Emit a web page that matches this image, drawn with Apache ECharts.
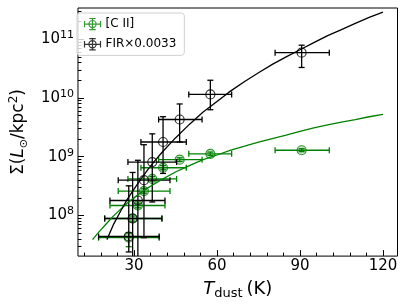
<!DOCTYPE html>
<html><head><meta charset="utf-8">
<script src="https://cdn.jsdelivr.net/npm/echarts@6/dist/echarts.min.js"></script>
<style>html,body{margin:0;padding:0;background:#fff}#c{width:407px;height:305px}</style>
</head><body><div id="c"></div>
<script>
// ---- data ----
const tDust  = [28.1, 29.5, 31.4, 33.6, 36.6, 40.5, 46.5, 57.6, 90.6];
const tLow   = [17.2, 19.4, 21.3, 24.3, 27.8, 32.5, 38.9, 49.8, 81.0];
const tHigh  = [39.1, 40.1, 41.2, 43.0, 45.4, 48.9, 54.6, 65.3, 100.6];
const ciiVal  = [4.2e7, 8.9e7, 1.48e8, 2.6e8, 4.2e8, 6.5e8, 8.9e8, 1.12e9, 1.29e9];
const ciiLow  = [2.95e7, 8.0e7, 1.35e8, 2.4e8, 3.85e8, 6.0e8, 8.3e8, 1.05e9, 1.22e9];
const ciiHigh = [5.1e7, 9.8e7, 1.62e8, 2.85e8, 4.6e8, 7.1e8, 9.6e8, 1.2e9, 1.37e9];
const firVal  = [4.4e7, 8.9e7, 1.8e8, 4.0e8, 8.1e8, 1.78e9, 4.3e9, 1.15e10, 5.9e10];
const firLow  = [2.4e7, 1e7, 1e7, 4.2e7, 1.7e8, 5.2e8, 1.78e9, 6.3e9, 3.3e10];
const firHigh = [3.2e8, 5.4e8, 8.7e8, 1.6e9, 2.45e9, 4.8e9, 7.9e9, 2.0e10, 7.9e10];
const fitCiiT = [15, 17.5, 20, 22.5, 25, 27.5, 30, 32.5, 35, 37.5, 40, 45, 50, 55, 60, 65, 70, 75, 80, 85, 90, 95, 100, 105, 110, 115, 120];
const fitCiiV = [3.89e7, 5.37e7, 7.24e7, 9.77e7, 1.26e8, 1.62e8, 2.0e8, 2.45e8, 2.95e8, 3.47e8, 4.07e8, 5.5e8, 7.08e8, 8.91e8,
                 1.07e9, 1.29e9, 1.51e9, 1.78e9, 2.04e9, 2.34e9, 2.69e9, 3.09e9, 3.47e9, 3.89e9, 4.27e9, 4.79e9, 5.25e9];
const fitFirT = [20.2, 22.5, 25, 27.5, 30, 32.5, 35, 37.5, 40, 45, 50, 55, 60, 65, 70, 75, 80, 85, 90, 95, 100, 105, 110, 115, 120];
const fitFirV = [3.89e7, 6.92e7, 1.15e8, 1.86e8, 2.82e8, 4.17e8, 6.03e8, 8.51e8, 1.17e9, 2.09e9, 3.55e9, 5.75e9, 8.71e9,
                 1.32e10, 1.91e10, 2.69e10, 3.72e10, 5.01e10, 6.61e10, 8.71e10, 1.15e11, 1.45e11, 1.86e11, 2.34e11, 2.88e11];
const xMajorTicks = [30, 60, 90, 120];
const xMinorTicks = [12, 18, 24, 36, 42, 48, 54, 66, 72, 78, 84, 96, 102, 108, 114];
const yMajorTicks = [1e8, 1e9, 1e10, 1e11];
const seriesNames = ['[C II]', 'FIR×0.0033'];

const X_MIN = 9.75, X_MAX = 125.25, Y_MIN = 2.04e7, Y_MAX = 3.39e11;
const yMinorTicks = [];
for (let e = 7; e <= 11; e++) for (let m = 2; m <= 9; m++) {
  const v = m * Math.pow(10, e);
  if (v > Y_MIN && v < Y_MAX) yMinorTicks.push(v);
}
const GREEN = '#008000';
const FONT = 'DejaVu Sans';

function errRows(v, lo, hi) {
  return tDust.map((t, i) => [t, v[i], tLow[i], tHigh[i], lo[i], hi[i]]);
}
function errRender(color, cap) {
  return function (params, api) {
    const x = api.value(0), y = api.value(1);
    const c = api.coord([x, y]);
    const pl = api.coord([api.value(2), y]);
    const ph = api.coord([api.value(3), y]);
    const ql = api.coord([x, api.value(4)]);
    const qh = api.coord([x, api.value(5)]);
    const st = { stroke: color, lineWidth: 1.3 };
    const L = (x1, y1, x2, y2) => ({ type: 'line', shape: { x1, y1, x2, y2 }, style: st });
    return { type: 'group', children: [
      L(pl[0], c[1], ph[0], c[1]),
      L(pl[0], c[1] - cap, pl[0], c[1] + cap),
      L(ph[0], c[1] - cap, ph[0], c[1] + cap),
      L(c[0], ql[1], c[0], qh[1]),
      L(c[0] - cap, ql[1], c[0] + cap, ql[1]),
      L(c[0] - cap, qh[1], c[0] + cap, qh[1])
    ]};
  };
}
const iconPath = 'path://M0,7L20,7M0,3L0,11M20,3L20,11M10,0L10,14M6,0L14,0M6,14L14,14M14.5,7A4.5,4.5,0,1,1,5.5,7A4.5,4.5,0,1,1,14.5,7';

const chart = echarts.init(document.getElementById('c'), null, { renderer: 'canvas' });
chart.setOption({
  animation: false,
  textStyle: { fontFamily: FONT, color: '#000' },
  grid: { left: 71, right: 9.5, top: 8, bottom: 48.5, show: true, borderColor: '#000', borderWidth: 1, backgroundColor: 'transparent' },
  legend: {
    orient: 'vertical', left: 77, top: 13,
    backgroundColor: 'rgba(255,255,255,0.8)', borderColor: '#d0d0d0', borderWidth: 1, borderRadius: 3,
    padding: [3, 8, 3, 5], itemGap: 4, itemWidth: 16, itemHeight: 12,
    textStyle: { fontFamily: FONT, fontSize: 12, color: '#000' },
    data: [
      { name: seriesNames[0], icon: iconPath, itemStyle: { color: 'none', borderColor: GREEN, borderWidth: 1.2 } },
      { name: seriesNames[1], icon: iconPath, itemStyle: { color: 'none', borderColor: '#000', borderWidth: 1.2 } }
    ]
  },
  xAxis: [{
    type: 'value', min: X_MIN, max: X_MAX,
    axisLine: { show: false }, splitLine: { show: false },
    axisTick: { inside: true, length: 6, lineStyle: { color: '#000', width: 1 }, customValues: xMajorTicks },
    axisLabel: { customValues: xMajorTicks, fontSize: 15, color: '#000', margin: 3, fontFamily: FONT },
    name: '{i|T}{s|dust} {n|(K)}', nameLocation: 'middle', nameGap: 10,
    nameTextStyle: { rich: {
      i: { fontStyle: 'italic', fontSize: 18, fontFamily: FONT, color: '#000', lineHeight: 22 },
      s: { fontSize: 13, fontFamily: FONT, color: '#000', verticalAlign: 'bottom', lineHeight: 14, padding: [8, 0, 0, 0] },
      n: { fontSize: 18, fontFamily: FONT, color: '#000', lineHeight: 22 }
    } }
  }, {
    type: 'value', min: X_MIN, max: X_MAX, position: 'bottom',
    axisLine: { show: false }, splitLine: { show: false },
    axisTick: { inside: true, length: 3.5, lineStyle: { color: '#000', width: 1 }, customValues: xMinorTicks },
    axisLabel: { show: false }
  }],
  yAxis: [{
    type: 'log', logBase: 10, min: Y_MIN, max: Y_MAX,
    axisLine: { show: false }, splitLine: { show: false },
    axisTick: { inside: true, length: 6, lineStyle: { color: '#000', width: 1 }, customValues: yMajorTicks },
    axisLabel: {
      customValues: yMajorTicks, margin: 4,
      formatter: v => '{b|10}{p|' + Math.round(Math.log10(v)) + '}',
      rich: {
        b: { fontSize: 15, fontFamily: FONT, color: '#000' },
        p: { fontSize: 11, fontFamily: FONT, color: '#000', verticalAlign: 'top', padding: [0, 0, 8, 0] }
      }
    },
    name: '{n|Σ(}{i|L}{o|⊙}{n|/kpc}{p|2}{n|)}', nameLocation: 'middle', nameGap: 44, nameRotate: 90,
    nameTextStyle: { rich: {
      n: { fontSize: 17, fontFamily: FONT, color: '#000', lineHeight: 22 },
      i: { fontSize: 17, fontFamily: FONT, fontStyle: 'italic', color: '#000', lineHeight: 22 },
      o: { fontSize: 11, fontFamily: FONT, color: '#000', verticalAlign: 'bottom', lineHeight: 14 },
      p: { fontSize: 12, fontFamily: FONT, color: '#000', verticalAlign: 'top', lineHeight: 14, padding: [0, 0, 6, 0] }
    } }
  }, {
    type: 'log', logBase: 10, min: Y_MIN, max: Y_MAX, position: 'left',
    axisLine: { show: false }, splitLine: { show: false },
    axisTick: { inside: true, length: 3.5, lineStyle: { color: '#000', width: 1 }, customValues: yMinorTicks },
    axisLabel: { show: false }
  }],
  series: [
    { type: 'custom', name: 'cii_err', clip: true, z: 2, renderItem: errRender(GREEN, 3),
      data: errRows(ciiVal, ciiLow, ciiHigh), encode: { x: 0, y: 1 } },
    { type: 'scatter', name: seriesNames[0], z: 3, symbol: 'circle', symbolSize: 9,
      itemStyle: { color: 'rgba(0,128,0,0.25)', borderColor: GREEN, borderWidth: 1.2 },
      data: tDust.map((t, i) => [t, ciiVal[i]]) },
    { type: 'custom', name: 'fir_err', clip: true, z: 4, renderItem: errRender('#000', 3),
      data: errRows(firVal, firLow, firHigh), encode: { x: 0, y: 1 } },
    { type: 'scatter', name: seriesNames[1], z: 5, symbol: 'circle', symbolSize: 9,
      itemStyle: { color: 'rgba(255,255,255,0)', borderColor: '#000', borderWidth: 1.2 },
      data: tDust.map((t, i) => [t, firVal[i]]) },
    { type: 'line', name: 'cii_fit', z: 6, smooth: false, showSymbol: false, symbol: 'none',
      lineStyle: { color: GREEN, width: 1.3 }, data: fitCiiT.map((t, i) => [t, fitCiiV[i]]) },
    { type: 'line', name: 'fir_fit', z: 6, smooth: false, showSymbol: false, symbol: 'none',
      lineStyle: { color: '#000', width: 1.3 }, data: fitFirT.map((t, i) => [t, fitFirV[i]]) }
  ]
});
</script></body></html>
